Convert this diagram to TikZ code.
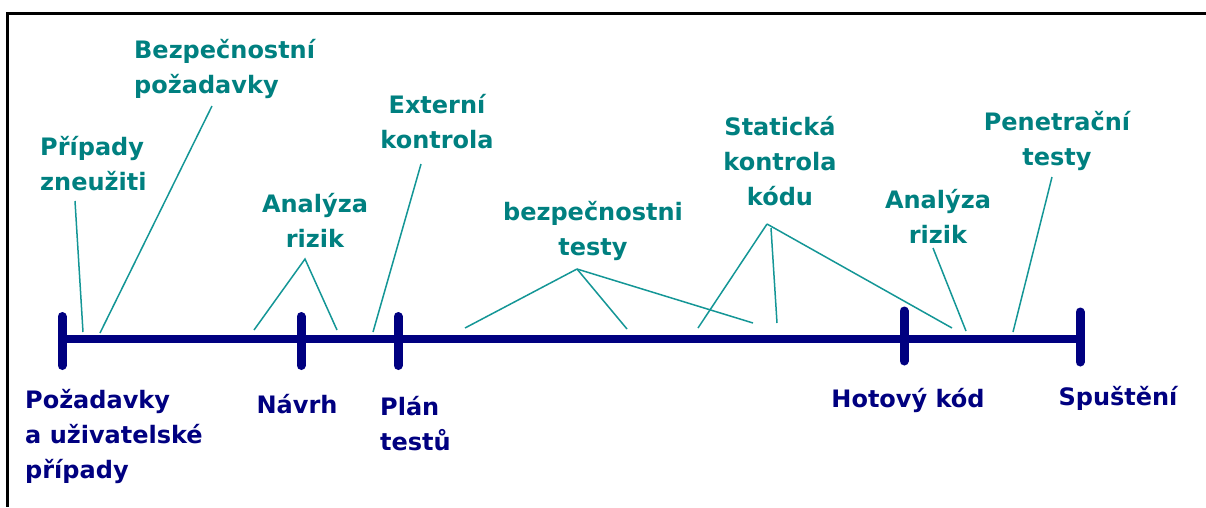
\documentclass[tikz,border=0pt]{standalone}
\usepackage{fontspec}
\setmainfont{DejaVu Sans}
\definecolor{tealtext}{RGB}{0,128,128}
\definecolor{tealline}{RGB}{20,150,150}
\definecolor{navy}{RGB}{0,0,128}
\tikzset{
  lbl/.style={font=\fontsize{24}{35}\selectfont\bfseries, inner sep=0pt, anchor=base},
  upper/.style={lbl, text=tealtext},
  lower/.style={lbl, text=navy},
  conn/.style={draw=tealline, line width=1.5pt},
  axisline/.style={draw=navy, line width=8.5pt},
  tickmark/.style={draw=navy, line width=9pt, line cap=round},
  frameline/.style={draw=black, line width=3pt},
}
\newcommand{\Lines}[2]{\begin{tabular}[t]{@{}#1@{}}#2\end{tabular}}
\begin{document}
\begin{tikzpicture}[x=1pt,y=-1pt]
\useasboundingbox (0,0) rectangle (1206,507);
% frame
\coordinate (fr1) at (1206,13);
\coordinate (fr2) at (7,13);
\coordinate (fr3) at (7,507);
\draw[frameline] (fr1) -- (fr2) -- (fr3);

% timeline
\coordinate (a0) at (62,339);
\coordinate (a1) at (1080,339);
\draw[axisline] (a0) -- (a1);
\coordinate (k1t) at (62,316.5);   \coordinate (k1b) at (62,365.5);
\coordinate (k2t) at (301,316.5);  \coordinate (k2b) at (301,365.5);
\coordinate (k3t) at (398,316.5);  \coordinate (k3b) at (398,365.5);
\coordinate (k4t) at (904,311);    \coordinate (k4b) at (904,361);
\coordinate (k5t) at (1080,312);   \coordinate (k5b) at (1080,362);
\foreach \k in {1,...,5} \draw[tickmark] (k\k t) -- (k\k b);

% upper labels
\node[upper, anchor=base west] (pz) at (40,155) {\Lines{l}{Případy\\zneužiti}};
\node[upper, anchor=base west] (bp) at (134,58) {\Lines{l}{Bezpečnostní\\požadavky}};
\node[upper] (ar1) at (315,212) {\Lines{c}{Analýza\\rizik}};
\node[upper] (ek) at (437,113) {\Lines{c}{Externí\\kontrola}};
\node[upper] (bt) at (593,220) {\Lines{c}{bezpečnostni\\testy}};
\node[upper] (sk) at (780,135) {\Lines{c}{Statická\\kontrola\\kódu}};
\node[upper] (ar2) at (938,208) {\Lines{c}{Analýza\\rizik}};
\node[upper] (pt) at (1057,130) {\Lines{c}{Penetrační\\testy}};

% lower labels
\node[lower, anchor=base west] (po) at (25,408) {\Lines{l}{Požadavky\\a uživatelské\\případy}};
\node[lower] (na) at (297,413) {Návrh};
\node[lower, anchor=base west] (pl) at (380,415) {\Lines{l}{Plán\\testů}};
\node[lower] (hk) at (908,407) {Hotový kód};
\node[lower] (sp) at (1118,405) {Spuštění};

% connector points
\coordinate (pzA) at (75,201);   \coordinate (pzB) at (83,332);
\coordinate (bpA) at (212,106);  \coordinate (bpB) at (100,333);
\coordinate (arA) at (305,259);  \coordinate (arB) at (254,330); \coordinate (arC) at (337,330);
\coordinate (ekA) at (421,164);  \coordinate (ekB) at (373,332);
\coordinate (btA) at (577,269);  \coordinate (btB) at (465,328); \coordinate (btC) at (627,329); \coordinate (btD) at (753,323);
\coordinate (skA) at (767,224);  \coordinate (skB) at (698,328); \coordinate (skC) at (777,323); \coordinate (skD) at (952,328);
\coordinate (sk2) at (771,228);
\coordinate (rrA) at (933,248);  \coordinate (rrB) at (966,331);
\coordinate (ptA) at (1052,177); \coordinate (ptB) at (1013,332);

\draw[conn] (pzA) -- (pzB);
\draw[conn] (bpA) -- (bpB);
\draw[conn] (arB) -- (arA) -- (arC);
\draw[conn] (ekA) -- (ekB);
\draw[conn] (btA) -- (btB);
\draw[conn] (btA) -- (btC);
\draw[conn] (btA) -- (btD);
\draw[conn] (skA) -- (skB);
\draw[conn] (sk2) -- (skC);
\draw[conn] (skA) -- (skD);
\draw[conn] (rrA) -- (rrB);
\draw[conn] (ptA) -- (ptB);
\end{tikzpicture}
\end{document}
